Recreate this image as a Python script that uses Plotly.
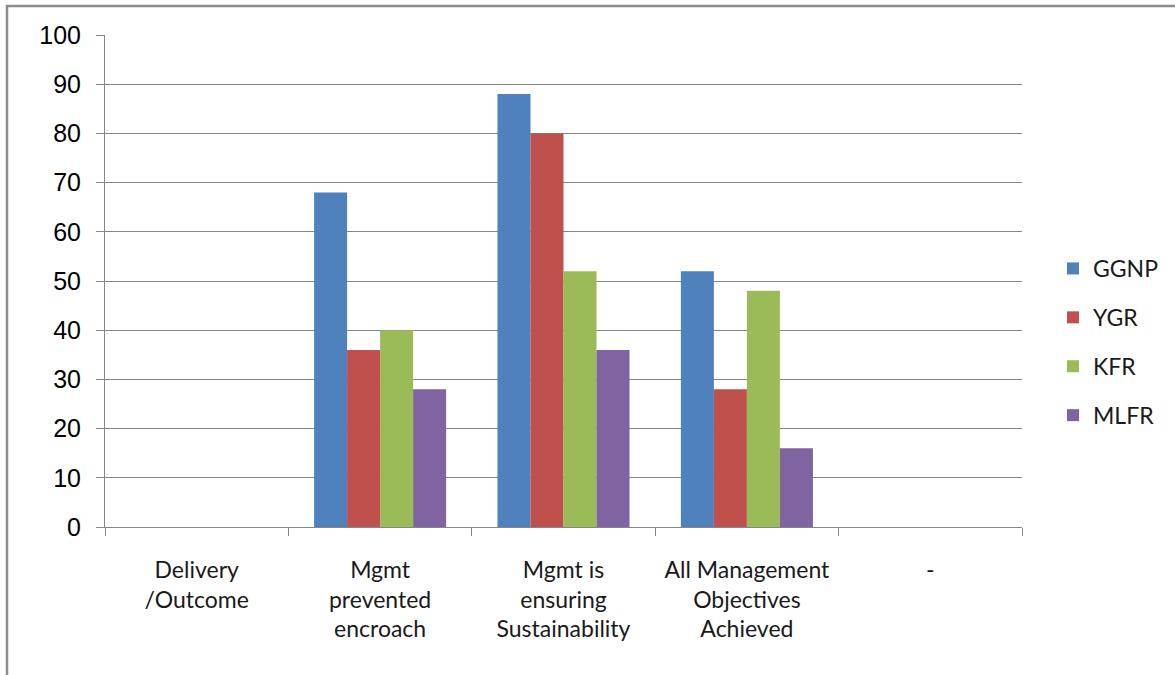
import plotly.graph_objects as go

categories = ["Delivery<br>/Outcome", "Mgmt<br>prevented<br>encroach", "Mgmt is<br>ensuring<br>Sustainability",
              "All Management<br>Objectives<br>Achieved", "-"]
series_names = ["GGNP", "YGR", "KFR", "MLFR"]
ggnp = [None, 68, 88, 52, None]
ygr = [None, 36, 80, 28, None]
kfr = [None, 40, 52, 48, None]
mlfr = [None, 28, 36, 16, None]
y_ticks = [0, 10, 20, 30, 40, 50, 60, 70, 80, 90, 100]

colors = ["#4F81BD", "#C0504D", "#9BBB59", "#8064A2"]
values = [ggnp, ygr, kfr, mlfr]

fig = go.Figure()
for i, (name, vals) in enumerate(zip(series_names, values)):
    fig.add_trace(go.Bar(x=categories, y=vals, name=name, marker_color=colors[i],
                         marker_line_width=0, legendgroup=name))

W, H = 1175, 675
L, R, T, B = 105, 153, 35, 148
pw, ph = W - L - R, H - T - B

def px_x(p):
    return (p - L) / pw

def px_y(p):
    return (H - B - p) / ph

fig.update_layout(
    width=W, height=H,
    margin=dict(l=L, r=R, t=T, b=B, autoexpand=False),
    paper_bgcolor="white", plot_bgcolor="white",
    barmode="group", bargap=0.28, bargroupgap=0,
    font=dict(family="Lato, Liberation Sans, sans-serif", color="#000000"),
    legend=dict(x=px_x(1053), xanchor="left", y=px_y(342), yanchor="middle",
                font=dict(family="Lato, sans-serif", size=23, color="#1a1a1a"),
                traceorder="grouped", tracegroupgap=16, itemwidth=30,
                bgcolor="rgba(0,0,0,0)"),
    xaxis=dict(type="category", tickson="boundaries", ticks="outside", ticklen=8,
               tickcolor="#868686", showline=True, linecolor="#868686", linewidth=1,
               showgrid=False, ticklabelstandoff=22,
               tickfont=dict(family="Lato, sans-serif", size=23, color="#1a1a1a")),
    yaxis=dict(range=[0, 100], tickvals=y_ticks, ticks="outside", ticklen=8,
               tickcolor="#868686", showline=True, linecolor="#868686", linewidth=1,
               showgrid=True, gridcolor="#868686", gridwidth=1, zeroline=False,
               ticklabelstandoff=10,
               tickfont=dict(family="Liberation Sans, Arial, sans-serif", size=25, color="#000000")),
    shapes=[dict(type="rect", xref="paper", yref="paper",
                 x0=px_x(7), x1=px_x(1300), y0=px_y(6), y1=px_y(800),
                 line=dict(color="#8C8C8C", width=2.5), layer="below")],
)

fig.write_html("out.html")
